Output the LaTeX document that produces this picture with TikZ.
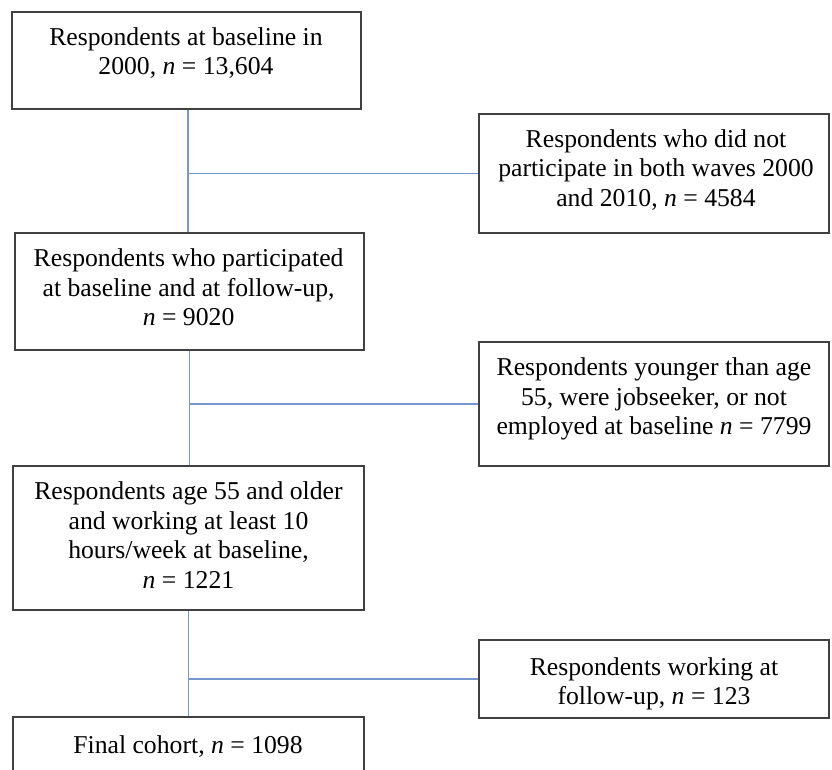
\documentclass[tikz,border=0pt]{standalone}
\usepackage{fontspec}
\setmainfont{Liberation Serif}
\begin{document}
\begin{tikzpicture}[x=1pt,y=-1pt,
  box/.style={draw=black!75, line width=1.3pt, rectangle, inner sep=0pt, fill=none},
  txt/.style={align=center, inner sep=0pt, font=\fontsize{25.7}{29.5}\selectfont}]
\definecolor{lineblue}{RGB}{120,150,210}
\tikzset{conn/.style={draw=lineblue, line width=1.6pt}}
\useasboundingbox (0,0) rectangle (832,769);
\clip (0,0) rectangle (832,769);
% boxes
\node[box, minimum width=349pt, minimum height=97pt] (b1) at (186.5,60.5) {};
\node[box, minimum width=350pt, minimum height=119pt] (r1) at (654,173.5) {};
\node[box, minimum width=349pt, minimum height=117pt] (b3) at (189.5,291.5) {};
\node[box, minimum width=350pt, minimum height=124pt] (r2) at (654,404) {};
\node[box, minimum width=351pt, minimum height=144pt] (b5) at (188.5,538) {};
\node[box, minimum width=350pt, minimum height=78pt] (r3) at (654,679) {};
\node[box, minimum width=351pt, minimum height=100pt] (b7) at (188.5,767) {};
% texts
\node[txt] (t1) at (186,53) {Respondents at baseline in\\2000, \textit{n} = 13,604};
\node[txt] (tr1) at (656,170) {Respondents who did not\\participate in both waves 2000\\and 2010, \textit{n} = 4584};
\node[txt] (t3) at (188.6,287.5) {Respondents who participated\\at baseline and at follow-up,\\\textit{n} = 9020};
\node[txt] (tr2) at (654,399) {Respondents younger than age\\55, were jobseeker, or not\\employed at baseline \textit{n} = 7799};
\node[txt] (t5) at (188.5,535) {Respondents age 55 and older\\and working at least 10\\hours/week at baseline,\\\textit{n} = 1221};
\node[txt] (tr3) at (654,684) {Respondents working at\\follow-up, \textit{n} = 123};
\node[txt] (t7) at (188,747) {Final cohort, \textit{n} = 1098};
% connectors
\coordinate (j1) at ([xshift=1.5pt]b1.south |- r1.west);
\draw[conn] ([xshift=1.5pt]b1.south) -- ([xshift=1.5pt]b1.south |- b3.north);
\draw[conn] (j1) -- (r1.west);
\coordinate (j2) at (b3.south |- r2.west);
\draw[conn] (b3.south) -- (b3.south |- b5.north);
\draw[conn] (j2) -- (r2.west);
\coordinate (j3) at (b5.south |- r3.west);
\draw[conn] (b5.south) -- (b5.south |- b7.north);
\draw[conn] (j3) -- (r3.west);
\end{tikzpicture}
\end{document}
